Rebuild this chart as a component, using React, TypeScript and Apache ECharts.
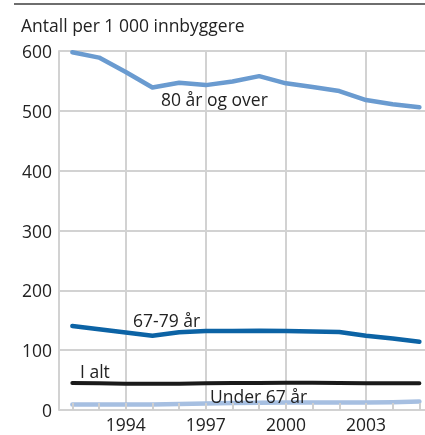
import React, { useEffect, useRef } from "react";
import * as echarts from "echarts";

const years = [1992, 1993, 1994, 1995, 1996, 1997, 1998, 1999, 2000, 2001, 2002, 2003, 2004, 2005];
const over80 = [598, 589, 565, 539, 547, 543, 549, 558, 546, 540, 533, 518, 511, 506];
const age67to79 = [140.5, 135, 129.5, 124, 130, 132, 132, 132.5, 132, 131, 130.5, 124, 119.5, 114];
const total = [45, 44.5, 44, 44, 44, 44.5, 45, 45, 45.5, 45.5, 45, 44.5, 44.5, 44.5];
const under67 = [9, 9, 9, 9, 10, 11, 11.5, 12, 12.5, 12.5, 12.5, 12.5, 13, 14];
const xTicks = [1994, 1997, 2000, 2003];
const yTitle = "Antall per 1 000 innbyggere";
const seriesNames = ["80 år og over", "67-79 år", "I alt", "Under 67 år"];

const FONT = "'Open Sans', 'Noto Sans', sans-serif";
const FS = 17.5;
const X_MIN = 1991.5;
const X_MAX = 2005.21;

export default function App() {
  const ref = useRef<HTMLDivElement>(null);
  useEffect(() => {
    if (!ref.current) return;
    const chart = echarts.init(ref.current, null, { renderer: "svg" });
    const mk = (name: string, vals: number[], color: string, width: number) => ({
      name,
      type: "line",
      xAxisIndex: 0,
      data: years.map((y, i) => [y, vals[i]]),
      showSymbol: false,
      lineStyle: { color, width, join: "round", cap: "round" },
      itemStyle: { color },
      z: 3,
    });
    const label = (text: string, x: number, y: number) => ({
      type: "text",
      x,
      y,
      z: 10,
      style: { text, fontSize: FS, fill: "#222", fontFamily: FONT, verticalAlign: "middle", align: "left" },
    });
    chart.setOption({
      animation: false,
      textStyle: { fontFamily: FONT },
      grid: { left: 59, right: 0, top: 51, bottom: 25, containLabel: false },
      xAxis: [
        {
          type: "value",
          min: X_MIN,
          max: X_MAX,
          position: "bottom",
          axisLine: { show: false },
          axisTick: { show: false, customValues: xTicks },
          axisLabel: {
            customValues: xTicks,
            color: "#222",
            fontSize: FS,
            fontFamily: FONT,
            margin: 5,
            formatter: (v: number) => String(v),
          },
          splitLine: { show: true, lineStyle: { color: "#d2d2d2", width: 2 } },
        },
        {
          type: "value",
          min: X_MIN,
          max: X_MAX,
          position: "bottom",
          offset: 0,
          z: 5,
          axisLine: { show: false },
          axisTick: {
            show: true,
            inside: true,
            length: 7,
            customValues: years,
            lineStyle: { color: "#cfcfcf", width: 2 },
          },
          axisLabel: { show: false },
          splitLine: { show: false },
        },
      ],
      yAxis: {
        type: "value",
        min: 0,
        max: 600,
        interval: 100,
        axisLine: { show: true, lineStyle: { color: "#d2d2d2", width: 2 } },
        axisTick: { show: false },
        axisLabel: { color: "#222", fontSize: FS, fontFamily: FONT, margin: 7 },
        splitLine: { show: true, lineStyle: { color: "#d2d2d2", width: 2 } },
      },
      graphic: [
        { type: "line", shape: { x1: 14, y1: 4, x2: 425, y2: 4 }, style: { stroke: "#6e6e6e", lineWidth: 2 } },
        {
          type: "text",
          x: 21,
          y: 25,
          style: { text: yTitle, fontSize: FS, fill: "#222", fontFamily: FONT, verticalAlign: "middle" },
        },
        label(seriesNames[0], 161, 98.5),
        label(seriesNames[1], 133, 319.5),
        label(seriesNames[2], 80, 370.5),
        label(seriesNames[3], 210, 395.5),
      ],
      series: [
        mk(seriesNames[3], under67, "#a6bfe1", 4.5),
        mk(seriesNames[2], total, "#1a1a1a", 4),
        mk(seriesNames[1], age67to79, "#0c63a5", 4.5),
        mk(seriesNames[0], over80, "#6a9bd0", 4.5),
      ],
    });
    return () => chart.dispose();
  }, []);
  return <div ref={ref} style={{ position: "fixed", left: 0, top: 0, width: 425, height: 435 }} />;
}
